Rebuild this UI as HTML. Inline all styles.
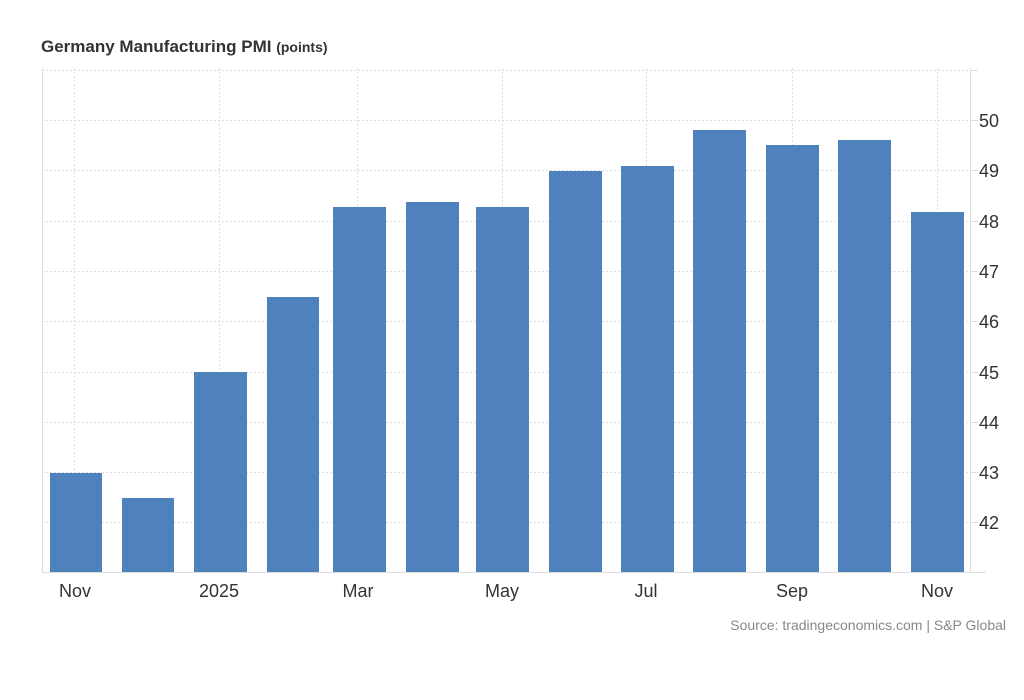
<!DOCTYPE html>
<html><head><style>
body{margin:0;background:#fff;}
svg{display:block;font-family:"Liberation Sans",Arial,sans-serif;}
</style></head><body>
<svg width="1024" height="700" viewBox="0 0 1024 700">
<text x="41" y="52" font-size="17" font-weight="bold" fill="#333">Germany Manufacturing PMI <tspan font-size="14">(points)</tspan></text>
<g stroke="#ddd" stroke-width="1" stroke-dasharray="2,2">
<line x1="42" y1="70.5" x2="970" y2="70.5"/><line x1="42" y1="120.5" x2="970" y2="120.5"/><line x1="42" y1="170.5" x2="970" y2="170.5"/><line x1="42" y1="221.5" x2="970" y2="221.5"/><line x1="42" y1="271.5" x2="970" y2="271.5"/><line x1="42" y1="321.5" x2="970" y2="321.5"/><line x1="42" y1="372.5" x2="970" y2="372.5"/><line x1="42" y1="422.5" x2="970" y2="422.5"/><line x1="42" y1="472.5" x2="970" y2="472.5"/><line x1="42" y1="522.5" x2="970" y2="522.5"/>
<line x1="74.5" y1="68" x2="74.5" y2="572"/><line x1="219.5" y1="68" x2="219.5" y2="572"/><line x1="357.5" y1="68" x2="357.5" y2="572"/><line x1="502.5" y1="68" x2="502.5" y2="572"/><line x1="646.5" y1="68" x2="646.5" y2="572"/><line x1="792.5" y1="68" x2="792.5" y2="572"/><line x1="937.5" y1="68" x2="937.5" y2="572"/>
</g>
<g stroke="#ddd" stroke-width="1">
<line x1="42.5" y1="68" x2="42.5" y2="572"/><line x1="970.5" y1="68" x2="970.5" y2="572"/><line x1="42" y1="572.5" x2="986" y2="572.5"/>
<line x1="970" y1="70.5" x2="978" y2="70.5"/><line x1="970" y1="120.5" x2="978" y2="120.5"/><line x1="970" y1="170.5" x2="978" y2="170.5"/><line x1="970" y1="221.5" x2="978" y2="221.5"/><line x1="970" y1="271.5" x2="978" y2="271.5"/><line x1="970" y1="321.5" x2="978" y2="321.5"/><line x1="970" y1="372.5" x2="978" y2="372.5"/><line x1="970" y1="422.5" x2="978" y2="422.5"/><line x1="970" y1="472.5" x2="978" y2="472.5"/><line x1="970" y1="522.5" x2="978" y2="522.5"/>
</g>
<g fill="#4f81bd">
<rect x="50" y="473" width="52" height="99"/>
<rect x="122" y="498" width="52" height="74"/>
<rect x="194" y="372" width="53" height="200"/>
<rect x="267" y="297" width="52" height="275"/>
<rect x="333" y="207" width="53" height="365"/>
<rect x="406" y="202" width="53" height="370"/>
<rect x="476" y="207" width="53" height="365"/>
<rect x="549" y="171" width="53" height="401"/>
<rect x="621" y="166" width="53" height="406"/>
<rect x="693" y="130" width="53" height="442"/>
<rect x="766" y="145" width="53" height="427"/>
<rect x="838" y="140" width="53" height="432"/>
<rect x="911" y="212" width="53" height="360"/>
</g>
<g font-size="18" fill="#333">
<text x="979" y="127">50</text><text x="979" y="177">49</text><text x="979" y="228">48</text><text x="979" y="278">47</text><text x="979" y="328">46</text><text x="979" y="379">45</text><text x="979" y="429">44</text><text x="979" y="479">43</text><text x="979" y="529">42</text>
</g>
<g font-size="18" fill="#333" text-anchor="middle">
<text x="75" y="597">Nov</text><text x="219" y="597">2025</text><text x="358" y="597">Mar</text><text x="502" y="597">May</text><text x="646" y="597">Jul</text><text x="792" y="597">Sep</text><text x="937" y="597">Nov</text>
</g>
<text x="1006" y="630" font-size="14" fill="#888" text-anchor="end">Source: tradingeconomics.com | S&amp;P Global</text>
</svg>
</body></html>
